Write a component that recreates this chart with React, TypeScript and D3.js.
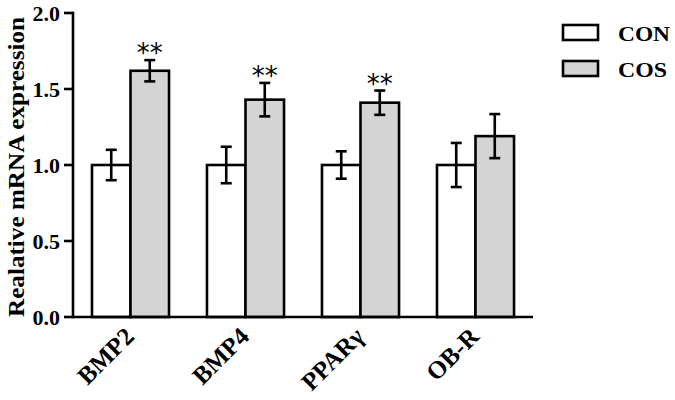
import React from "react";
import * as d3 from "d3";

const categories = ["BMP2", "BMP4", "PPARγ", "OB-R"];
const series = ["CON", "COS"];
const conValues = [1.0, 1.0, 1.0, 1.0];
const conErrors = [0.1, 0.12, 0.09, 0.145];
const cosValues = [1.62, 1.43, 1.41, 1.19];
const cosErrors = [0.07, 0.11, 0.08, 0.145];
const significance = ["**", "**", "**", ""];
const yTicks = [0, 0.5, 1.0, 1.5, 2.0];
const fills = ["#ffffff", "#d4d4d4"];

const W = 675;
const H = 400;
const FONT = "'Liberation Serif', 'Times New Roman', serif";

export default function App() {
  const x0 = d3.scaleBand<string>().domain(categories).range([73, 533]).paddingInner(0.33).paddingOuter(0.165);
  const x1 = d3.scaleBand<string>().domain(series).range([0, x0.bandwidth()]).padding(0);
  const y = d3.scaleLinear().domain([0, 2]).range([317, 13]);
  const vals = [conValues, cosValues];
  const errs = [conErrors, cosErrors];
  const sw = 2.6;

  return (
    <svg width={W} height={H} style={{ position: "absolute", left: 0, top: 0, background: "#fff" }} fontFamily={FONT}>
      {/* bars */}
      {categories.map((c, i) =>
        series.map((s, j) => {
          const bx = (x0(c) ?? 0) + (x1(s) ?? 0);
          const bw = x1.bandwidth();
          const v = vals[j][i];
          const e = errs[j][i];
          const cx = bx + bw / 2;
          return (
            <g key={c + s}>
              <rect x={bx} y={y(v)} width={bw} height={y(0) - y(v)} fill={fills[j]} stroke="#000" strokeWidth={sw} />
              <line x1={cx} x2={cx} y1={y(v + e)} y2={y(v - e)} stroke="#000" strokeWidth={sw} />
              <line x1={cx - 5.5} x2={cx + 5.5} y1={y(v + e)} y2={y(v + e)} stroke="#000" strokeWidth={sw} />
              <line x1={cx - 5.5} x2={cx + 5.5} y1={y(v - e)} y2={y(v - e)} stroke="#000" strokeWidth={sw} />
              {j === 1 && significance[i] ? (
                <text x={cx} y={y(v + e) + 2} textAnchor="middle" fontSize={26} fontFamily="'DejaVu Sans', sans-serif" fill="#000">
                  {significance[i]}
                </text>
              ) : null}
            </g>
          );
        })
      )}
      {/* axes */}
      <line x1={73} x2={533} y1={y(0)} y2={y(0)} stroke="#000" strokeWidth={sw} />
      <line x1={73} x2={73} y1={y(0) + 1.3} y2={y(2) - 1.3} stroke="#000" strokeWidth={sw} />
      {yTicks.map((t) => (
        <g key={t}>
          <line x1={64} x2={73} y1={y(t)} y2={y(t)} stroke="#000" strokeWidth={sw} />
          <text x={60} y={y(t)} dy="0.35em" textAnchor="end" fontSize={22} fontWeight="bold">
            {t.toFixed(1)}
          </text>
        </g>
      ))}
      <text transform={`translate(24,${(y(0) + y(2)) / 2 + 2}) rotate(-90)`} textAnchor="middle" fontSize={23} fontWeight="bold" textLength={300} lengthAdjust="spacingAndGlyphs">
        Realative mRNA expression
      </text>
      {categories.map((c) => {
        const cx = (x0(c) ?? 0) + x0.bandwidth() / 2;
        return (
          <text key={c} transform={`translate(${cx + 5},${338}) rotate(-45)`} textAnchor="end" fontSize={25} fontWeight="bold">
            {c}
          </text>
        );
      })}
      {/* legend */}
      {series.map((s, j) => (
        <g key={s} transform={`translate(563,${25 + j * 36})`}>
          <rect x={0} y={0} width={35} height={15} fill={fills[j]} stroke="#000" strokeWidth={sw} />
          <text x={55} y={8} dy="0.35em" fontSize={22} fontWeight="bold" textLength={s === "CON" ? 52 : 49} lengthAdjust="spacingAndGlyphs">
            {s}
          </text>
        </g>
      ))}
    </svg>
  );
}
